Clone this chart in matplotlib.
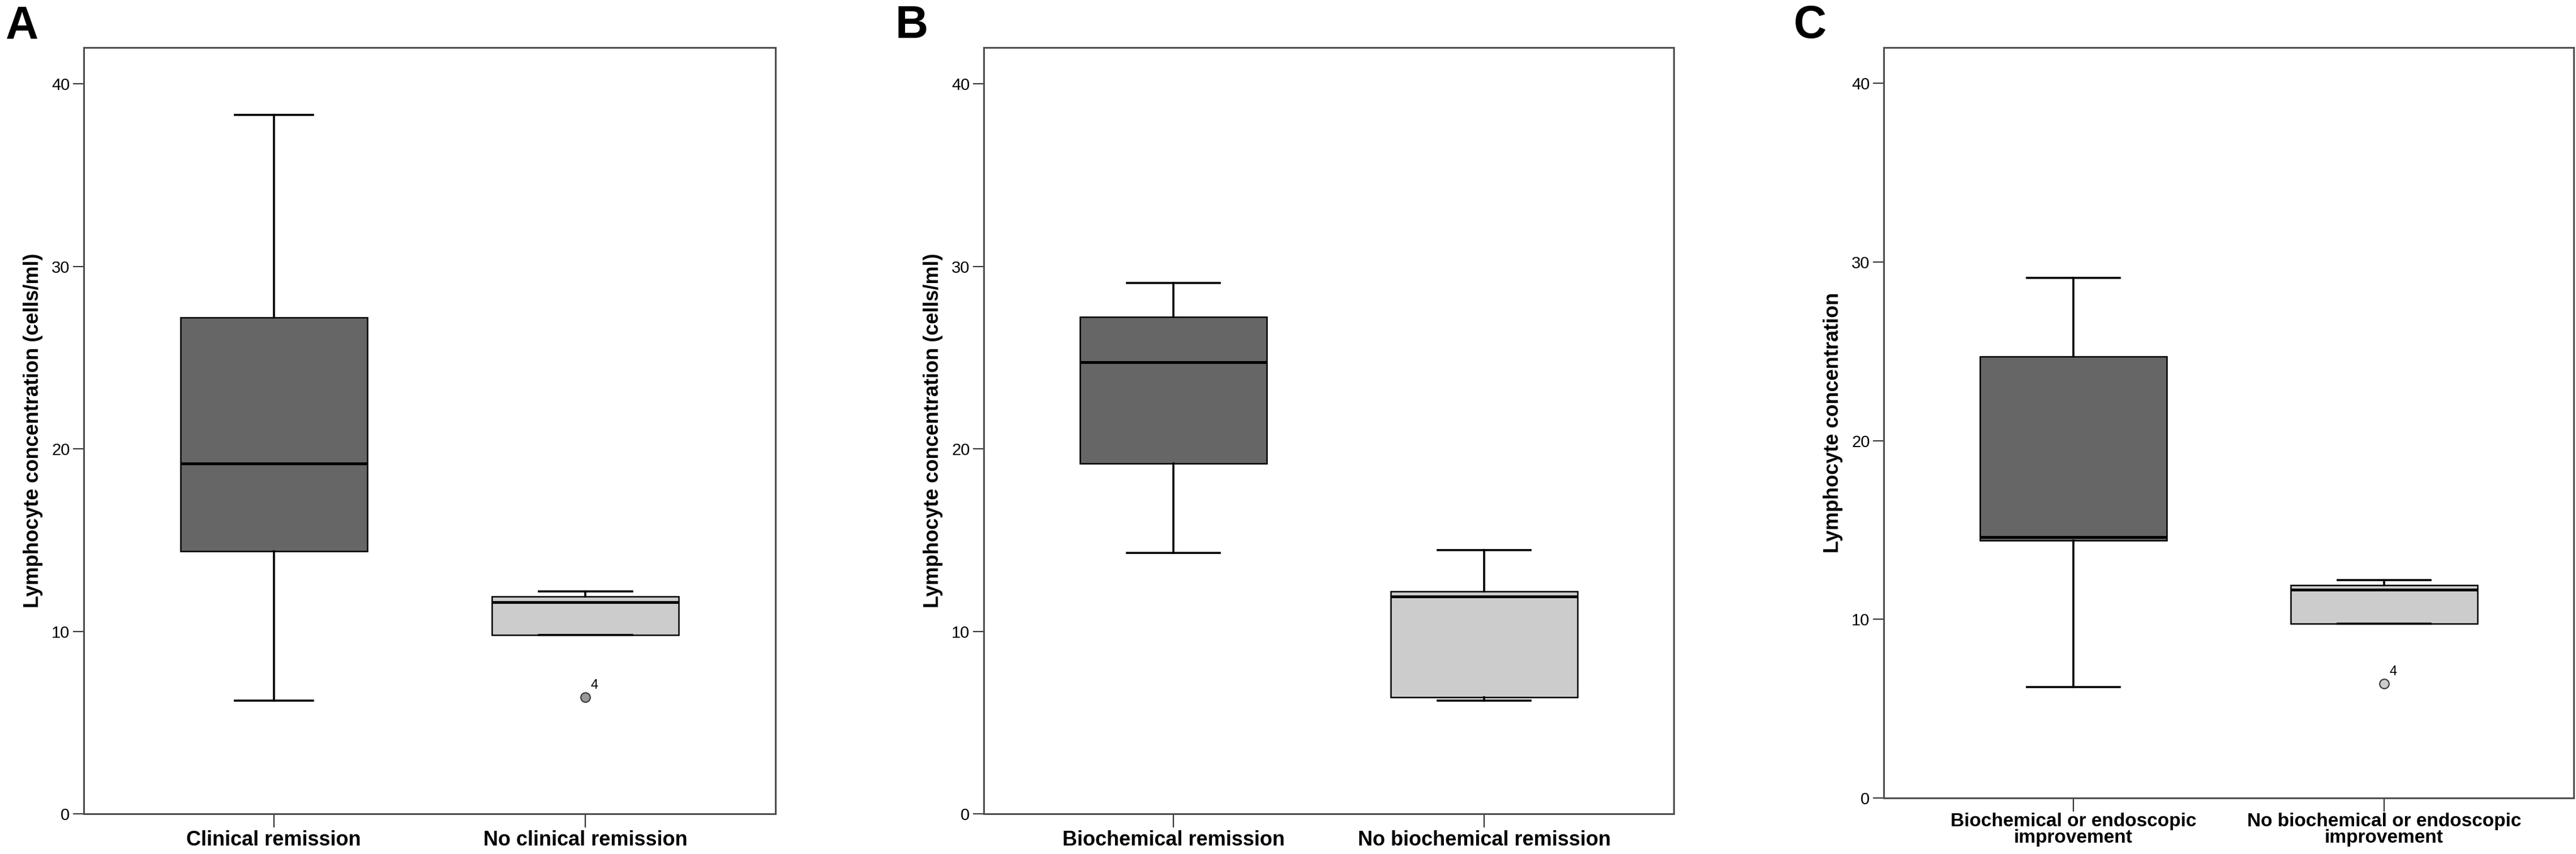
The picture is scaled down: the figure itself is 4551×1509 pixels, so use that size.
import matplotlib.pyplot as plt

plt.rcParams['font.family'] = ['Liberation Sans', 'DejaVu Sans']

W, H = 4551, 1509

# ---- data ----
a_labels = ["Clinical remission", "No clinical remission"]
a_whislo = [6.2, 9.8]
a_q1 = [14.4, 9.8]
a_med = [19.2, 11.6]
a_q3 = [27.2, 11.9]
a_whishi = [38.3, 12.2]
a_fliers = [[], [6.4]]
a_flier_ids = [[], ["4"]]

b_labels = ["Biochemical remission", "No biochemical remission"]
b_whislo = [14.3, 6.2]
b_q1 = [19.2, 6.4]
b_med = [24.75, 11.9]
b_q3 = [27.25, 12.2]
b_whishi = [29.1, 14.45]
b_fliers = [[], []]
b_flier_ids = [[], []]

c_labels = ["Biochemical or endoscopic\nimprovement",
            "No biochemical or endoscopic\nimprovement"]
c_whislo = [6.2, 9.75]
c_q1 = [14.4, 9.75]
c_med = [14.6, 11.65]
c_q3 = [24.7, 11.9]
c_whishi = [29.1, 12.2]
c_fliers = [[], [6.4]]
c_flier_ids = [[], ["4"]]

box_colors = ["#666666", "#cccccc"]
SPINE = "#4d4d4d"


def px_axes(fig, left, right, top, bottom):
    return fig.add_axes([left / W, 1 - bottom / H, (right - left) / W, (bottom - top) / H])


def draw_panel(ax, labels, whislo, q1, med, q3, whishi, fliers, ids,
               ylabel, capwidths, flier_face, xfont, xpad):
    stats = []
    for i in range(len(labels)):
        stats.append(dict(whislo=whislo[i], q1=q1[i], med=med[i], q3=q3[i],
                          whishi=whishi[i], fliers=fliers[i], label=labels[i]))
    bp = ax.bxp(stats, positions=[1, 2], widths=0.6, patch_artist=True,
                capwidths=capwidths,
                boxprops=dict(edgecolor="black", linewidth=1.8),
                medianprops=dict(color="black", linewidth=3.6),
                whiskerprops=dict(color="black", linewidth=2.6),
                capprops=dict(color="black", linewidth=2.6),
                flierprops=dict(marker="o", markersize=12,
                                markerfacecolor=flier_face,
                                markeredgecolor="#333333", markeredgewidth=1.5))
    for patch, col in zip(bp["boxes"], box_colors):
        patch.set_facecolor(col)
    for i, (vals, names) in enumerate(zip(fliers, ids)):
        for v, n in zip(vals, names):
            ax.annotate(n, (i + 1, v), xytext=(7, 7), textcoords="offset points",
                        ha="left", va="bottom", fontsize=17)

    ax.set_xlim(0.39, 2.61)
    ax.set_ylim(0, 42)
    ax.set_yticks([0, 10, 20, 30, 40])
    ax.set_xticks([1, 2])
    ax.set_xticklabels(labels, fontsize=xfont, fontweight="bold", linespacing=0.92)
    ax.set_ylabel(ylabel, fontsize=26, fontweight="bold", labelpad=11)
    ax.tick_params(axis="x", length=17, width=1.6, pad=xpad, color="#333333")
    ax.tick_params(axis="y", length=13.7, width=1.5, pad=4, labelsize=21, color="#333333")
    for sp in ax.spines.values():
        sp.set_color(SPINE)
        sp.set_linewidth(2.2)


fig = plt.figure(figsize=(W / 100, H / 100), dpi=100)

axA = px_axes(fig, 148, 1370, 84, 1438)
draw_panel(axA, a_labels, a_whislo, a_q1, a_med, a_q3, a_whishi, a_fliers, a_flier_ids,
           "Lymphocyte concentration (cells/ml)", [0.25, 0.3], "#999999", 26, 3.6)

axB = px_axes(fig, 1738, 2957, 84, 1438)
draw_panel(axB, b_labels, b_whislo, b_q1, b_med, b_q3, b_whishi, b_fliers, b_flier_ids,
           "Lymphocyte concentration (cells/ml)", [0.3, 0.3], "#999999", 26, 3.6)

axC = px_axes(fig, 3328, 4547, 84, 1410)
draw_panel(axC, c_labels, c_whislo, c_q1, c_med, c_q3, c_whishi, c_fliers, c_flier_ids,
           "Lymphocyte concentration", [0.3, 0.3], "#cccccc", 24, 2)

for letter, x in [("A", 10), ("B", 1582), ("C", 3169)]:
    fig.text(x / W, 1 - 67 / H, letter, fontsize=58, fontweight="bold",
             ha="left", va="baseline")

fig.savefig("out.png", dpi=100)
